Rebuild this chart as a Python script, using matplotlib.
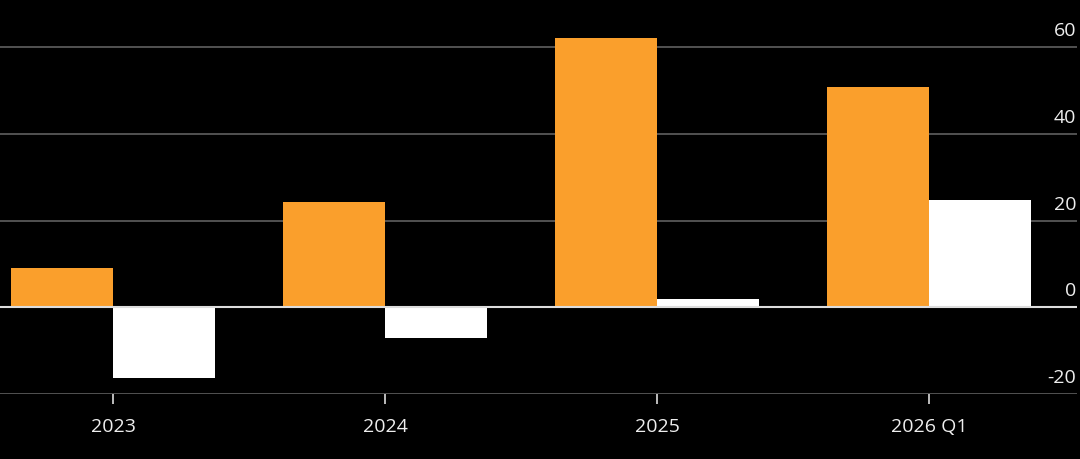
import matplotlib.pyplot as plt
import matplotlib.transforms as mtransforms
import numpy as np

# data
categories = ['2023', '2024', '2025', '2026 Q1']
orange_vals = [9.1, 24.3, 62.0, 50.9]
white_vals = [-16.2, -7.0, 2.0, 24.8]
yticks = [-20, 0, 20, 40, 60]

plt.rcParams['font.family'] = ['Open Sans', 'DejaVu Sans']

fig = plt.figure(figsize=(10.8, 4.6), dpi=100, facecolor='black')
ax = fig.add_axes([0.0, 0.1407, 1077 / 1080, 1 - 0.1407])
ax.set_facecolor('black')

x = np.arange(len(categories))
w = 0.375
ax.bar(x, orange_vals, width=-w, align='edge', color='#FA9F2C', zorder=2)
ax.bar(x, white_vals, width=w, align='edge', color='white', zorder=2)

ax.set_xlim(-113 / 272, (1077 - 113) / 272)
ax.set_ylim(-20, 71.1)

# grid
for v in yticks:
    if v == 0:
        ax.axhline(v, color='#dddddd', lw=1.5, zorder=3)
    else:
        ax.axhline(v, color='#5f5f5f', lw=1.2, zorder=1)

for s in ax.spines.values():
    s.set_visible(False)

ax.set_xticks(x)
ax.set_xticklabels(categories)
ax.tick_params(axis='x', colors='#dddddd', labelcolor='#eeeeee', length=7,
               width=1.2, pad=9, labelsize=14)

ax.yaxis.tick_right()
ax.set_yticks(yticks)
ax.set_yticklabels([str(v) for v in yticks])
ax.tick_params(axis='y', length=0, pad=-0.5, labelsize=14, labelcolor='#eeeeee')
offset = mtransforms.ScaledTranslation(0, 19 / 100, fig.dpi_scale_trans)
for lab in ax.get_yticklabels():
    lab.set_horizontalalignment('right')
    lab.set_transform(lab.get_transform() + offset)

fig.savefig('out.png', dpi=100, facecolor='black')
